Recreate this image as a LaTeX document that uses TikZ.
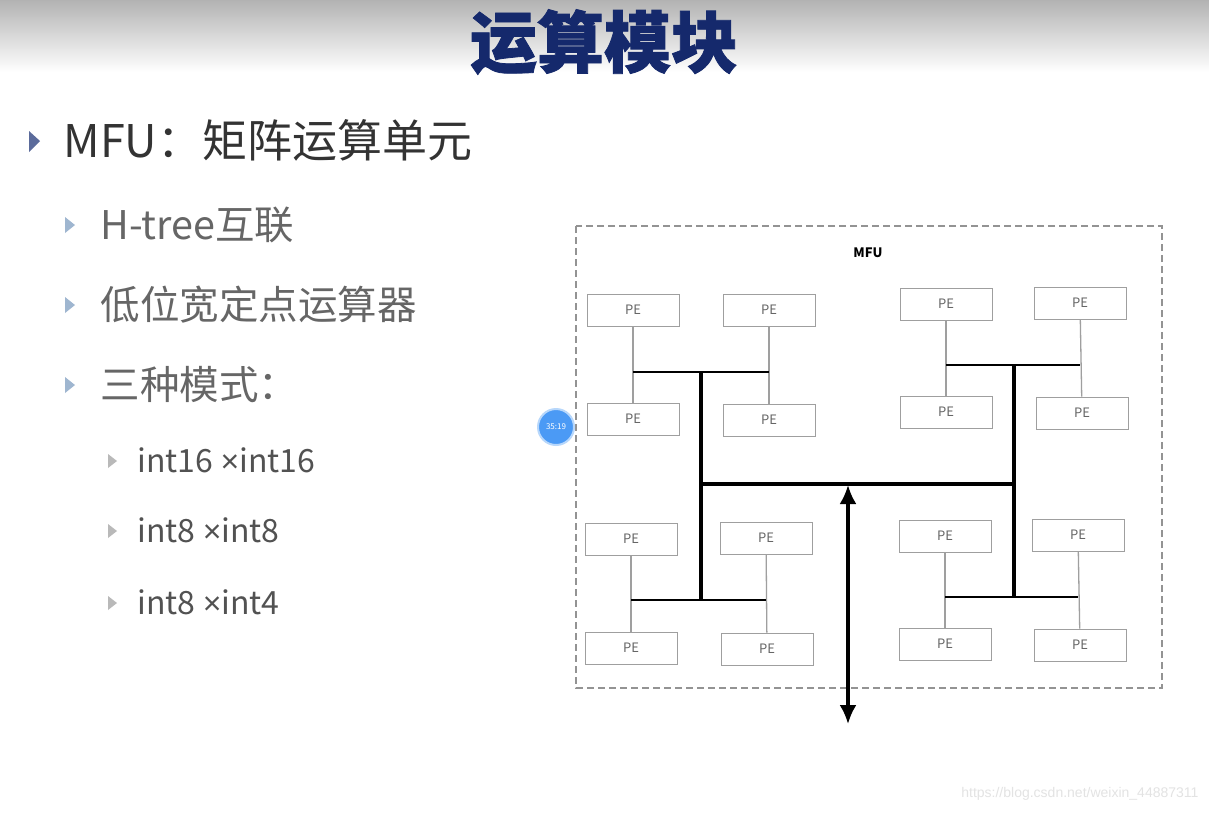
\documentclass[tikz,border=0pt]{standalone}
\usepackage{fontspec}
\setmainfont{Noto Sans CJK SC}
\newfontfamily\titlefont[BoldFeatures={FakeBold=1.2}]{Noto Sans CJK SC}
\newfontfamily\wmfont{Liberation Sans}
\usetikzlibrary{arrows.meta}

\definecolor{titleblue}{HTML}{15296C}
\definecolor{bulletone}{HTML}{5B6B9B}
\definecolor{bullettwo}{HTML}{9FB6D0}
\definecolor{clockblue}{HTML}{4B9AF5}

\tikzset{
  pebox/.style={draw=gray!75, line width=1pt, fill=white, minimum width=92pt,
    minimum height=32pt, inner sep=0pt, text=gray!80!black,
    font=\fontsize{13}{13}\selectfont},
  twig/.style={gray!75, line width=1.3pt},
  branch/.style={black, line width=2.4pt},
  trunk/.style={black, line width=3.2pt},
  itemone/.style={anchor=west, text=black!80, font=\fontsize{45}{45}\selectfont},
  itemtwo/.style={anchor=west, text=black!60, font=\fontsize{39.5}{40}\selectfont},
  itemthree/.style={anchor=west, text=black!68, font=\fontsize{32}{32}\selectfont},
}
\newcommand{\tms}{{\wmfont ×}}

\begin{document}
\begin{tikzpicture}[x=1pt,y=-1pt]
  \useasboundingbox (0,0) rectangle (1209,812);
  \fill[white] (0,0) rectangle (1209,812); % page
  \shade[top color=gray!60, bottom color=white] (0,0) rectangle (1209,72); % top band

  \node[font=\titlefont\fontsize{67}{67}\selectfont\bfseries, text=titleblue] (title) at (604,42) {运算模块};

  % bullet list
  \fill[bulletone] (29,131) -- (40,141) -- (29,152) -- cycle;
  \node[itemone] (mfu) at (60,140) {MFU：矩阵运算单元};
  \fill[bullettwo] (65,217) -- (75,225) -- (65,233) -- cycle;
  \node[itemtwo] (htree) at (97,225) {H-tree互联};
  \fill[bullettwo] (65,297) -- (75,305) -- (65,313) -- cycle;
  \node[itemtwo] (alu) at (97,305) {低位宽定点运算器};
  \fill[bullettwo] (65,377) -- (75,385) -- (65,393) -- cycle;
  \node[itemtwo] (modes) at (97,385) {三种模式：};
  \fill[gray!55] (108,454) -- (117,461) -- (108,468) -- cycle;
  \node[itemthree] (modea) at (134,460) {int16 \tms int16};
  \fill[gray!55] (108,524) -- (117,531) -- (108,538) -- cycle;
  \node[itemthree] (modeb) at (134,530) {int8 \tms int8};
  \fill[gray!55] (108,596) -- (117,603) -- (108,610) -- cycle;
  \node[itemthree] (modec) at (134,602) {int8 \tms int4};

  % MFU frame
  \draw[gray!85, line width=1.6pt, dash pattern=on 7pt off 4pt] (576,226) rectangle (1162,688);
  \node[font=\fontsize{13}{13}\selectfont\bfseries] (label) at (868,253) {MFU};

  % PE blocks
  \node[pebox] (pe1) at (633,310) {PE};
  \node[pebox] (pe2) at (769,310) {PE};
  \node[pebox] (pe3) at (633,419) {PE};
  \node[pebox] (pe4) at (769,420) {PE};
  \node[pebox] (pe5) at (946,304) {PE};
  \node[pebox] (pe6) at (1080,303) {PE};
  \node[pebox] (pe7) at (946,412) {PE};
  \node[pebox] (pe8) at (1082,413) {PE};
  \node[pebox] (pe9) at (631,539) {PE};
  \node[pebox] (pe10) at (766,538) {PE};
  \node[pebox] (pe11) at (631,648) {PE};
  \node[pebox] (pe12) at (767,649) {PE};
  \node[pebox] (pe13) at (945,536) {PE};
  \node[pebox] (pe14) at (1078,535) {PE};
  \node[pebox] (pe15) at (945,644) {PE};
  \node[pebox] (pe16) at (1080,645) {PE};

  % H-tree junctions
  \coordinate (tl) at (701,372);
  \coordinate (tr) at (1014,365);
  \coordinate (bl) at (701,600);
  \coordinate (br) at (1014,597);
  \coordinate (hl) at (701,484);
  \coordinate (hr) at (1014,484);
  \coordinate (hub) at (848,485);
  \coordinate (io) at (848,724);

  \draw[twig] (pe1) -- (pe3);
  \draw[twig] (pe2) -- (pe4);
  \draw[twig] (pe5) -- (pe7);
  \draw[twig] (pe6) -- (pe8);
  \draw[twig] (pe9) -- (pe11);
  \draw[twig] (pe10) -- (pe12);
  \draw[twig] (pe13) -- (pe15);
  \draw[twig] (pe14) -- (pe16);

  \draw[branch] (pe1 |- tl) -- (pe2 |- tl);
  \draw[branch] (pe5 |- tr) -- (pe6 |- tr);
  \draw[branch] (pe9 |- bl) -- (pe10 |- bl);
  \draw[branch] (pe13 |- br) -- (pe14 |- br);

  \draw[trunk] (tl) -- (bl);
  \draw[trunk] (tr) -- (br);
  \draw[trunk] (hl) -- (hr);
  \draw[trunk, >={Latex[length=19pt,width=17pt]}, <->] (hub) -- (io); % data port

  % player marker and watermark
  \node[circle, fill=clockblue, draw=clockblue!40, line width=2pt, minimum size=36pt,
    inner sep=0pt, text=white, font=\fontsize{8}{8}\selectfont] (clock) at (556,427) {35:19};
  \node[anchor=east, text=gray!22, font=\wmfont\fontsize{14}{14}\selectfont] (mark) at (1202,794)
    {https://blog.csdn.net/weixin\_44887311};
\end{tikzpicture}
\end{document}
